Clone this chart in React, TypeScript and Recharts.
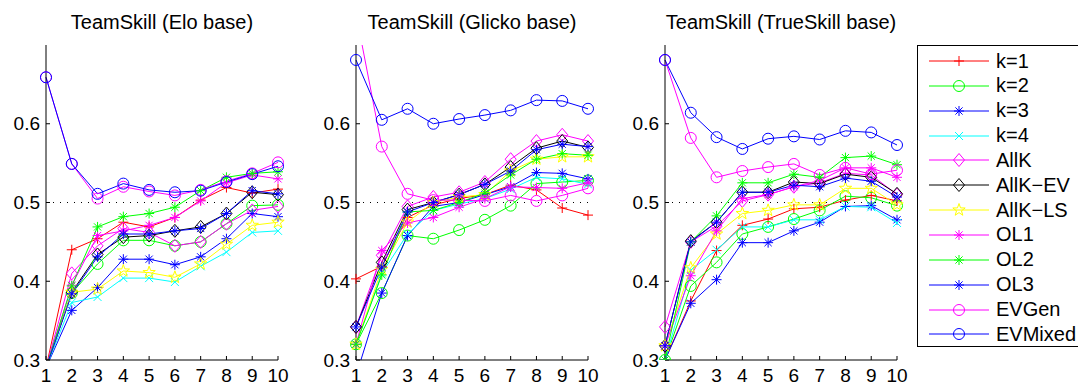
import React from 'react';
import { LineChart, Line, XAxis, YAxis, ReferenceLine } from 'recharts';

const FONT = '"Liberation Sans", Arial, Helvetica, sans-serif';

const ROUNDS = [1, 2, 3, 4, 5, 6, 7, 8, 9, 10];
const Y_TICKS = [0.3, 0.4, 0.5, 0.6];

// TeamSkill (Elo base)
const eloK1 = [0.29, 0.44, 0.454, 0.475, 0.469, 0.481, 0.503, 0.519, 0.512, 0.517];
const eloK2 = [0.29, 0.385, 0.422, 0.452, 0.452, 0.445, 0.45, 0.473, 0.496, 0.497];
const eloK3 = [0.29, 0.363, 0.392, 0.428, 0.428, 0.421, 0.431, 0.454, 0.486, 0.482];
const eloK4 = [0.29, 0.373, 0.38, 0.404, 0.404, 0.399, 0.419, 0.437, 0.462, 0.464];
const eloAllK = [0.29, 0.41, 0.445, 0.467, 0.462, 0.445, 0.45, 0.473, 0.49, 0.495];
const eloAllKEV = [0.29, 0.386, 0.434, 0.456, 0.458, 0.464, 0.469, 0.486, 0.513, 0.51];
const eloAllKLS = [0.29, 0.386, 0.39, 0.413, 0.411, 0.405, 0.422, 0.447, 0.471, 0.475];
const eloOL1 = [0.29, 0.395, 0.458, 0.464, 0.471, 0.481, 0.502, 0.525, 0.535, 0.53];
const eloOL2 = [0.29, 0.394, 0.469, 0.482, 0.486, 0.494, 0.515, 0.532, 0.537, 0.539];
const eloOL3 = [0.29, 0.384, 0.431, 0.46, 0.46, 0.464, 0.467, 0.486, 0.515, 0.511];
const eloEVGen = [0.659, 0.549, 0.505, 0.52, 0.514, 0.509, 0.516, 0.527, 0.537, 0.551];
const eloEVMixed = [0.659, 0.549, 0.511, 0.524, 0.516, 0.513, 0.515, 0.526, 0.536, 0.546];

// TeamSkill (Glicko base)
const glkK1 = [0.403, 0.419, 0.481, 0.497, 0.505, 0.51, 0.522, 0.516, 0.493, 0.484];
const glkK2 = [0.32, 0.385, 0.458, 0.454, 0.465, 0.478, 0.496, 0.524, 0.526, 0.528];
const glkK3 = [0.28, 0.385, 0.458, 0.495, 0.5, 0.51, 0.52, 0.538, 0.537, 0.53];
const glkK4 = [0.32, 0.41, 0.46, 0.49, 0.498, 0.505, 0.517, 0.532, 0.53, 0.523];
const glkAllK = [0.342, 0.433, 0.495, 0.507, 0.513, 0.526, 0.555, 0.578, 0.586, 0.578];
const glkAllKEV = [0.342, 0.424, 0.491, 0.5, 0.51, 0.523, 0.545, 0.569, 0.578, 0.57];
const glkAllKLS = [0.32, 0.415, 0.475, 0.5, 0.507, 0.51, 0.54, 0.555, 0.558, 0.558];
const glkOL1 = [0.32, 0.439, 0.474, 0.481, 0.494, 0.505, 0.52, 0.519, 0.518, 0.525];
const glkOL2 = [0.32, 0.408, 0.488, 0.49, 0.5, 0.512, 0.535, 0.555, 0.562, 0.56];
const glkOL3 = [0.342, 0.418, 0.488, 0.5, 0.51, 0.523, 0.54, 0.567, 0.574, 0.571];
const glkEVGen = [0.74, 0.571, 0.511, 0.503, 0.503, 0.502, 0.509, 0.502, 0.509, 0.518];
const glkEVMixed = [0.681, 0.605, 0.619, 0.6, 0.606, 0.611, 0.617, 0.63, 0.629, 0.619];

// TeamSkill (TrueSkill base)
const tsK1 = [0.3, 0.375, 0.439, 0.471, 0.479, 0.492, 0.494, 0.503, 0.509, 0.502];
const tsK2 = [0.3, 0.394, 0.424, 0.46, 0.469, 0.479, 0.49, 0.508, 0.506, 0.496];
const tsK3 = [0.3, 0.372, 0.402, 0.449, 0.449, 0.464, 0.475, 0.495, 0.496, 0.478];
const tsK4 = [0.3, 0.414, 0.44, 0.469, 0.469, 0.478, 0.478, 0.495, 0.494, 0.474];
const tsAllK = [0.342, 0.45, 0.47, 0.502, 0.51, 0.52, 0.525, 0.537, 0.535, 0.51];
const tsAllKEV = [0.318, 0.451, 0.475, 0.513, 0.513, 0.526, 0.524, 0.536, 0.532, 0.511];
const tsAllKLS = [0.318, 0.417, 0.46, 0.486, 0.49, 0.497, 0.497, 0.518, 0.518, 0.497];
const tsOL1 = [0.318, 0.407, 0.464, 0.505, 0.51, 0.52, 0.528, 0.544, 0.544, 0.532];
const tsOL2 = [0.3, 0.45, 0.483, 0.525, 0.525, 0.536, 0.532, 0.557, 0.559, 0.548];
const tsOL3 = [0.318, 0.45, 0.475, 0.513, 0.513, 0.522, 0.52, 0.531, 0.527, 0.507];
const tsEVGen = [0.681, 0.582, 0.532, 0.54, 0.545, 0.549, 0.535, 0.544, 0.536, 0.541];
const tsEVMixed = [0.681, 0.614, 0.583, 0.568, 0.581, 0.584, 0.58, 0.591, 0.589, 0.573];

type Shape = 'plus' | 'circle' | 'asterisk' | 'cross' | 'diamond' | 'star';

const SERIES: { key: string; name: string; color: string; shape: Shape }[] = [
  { key: 'k1', name: 'k=1', color: '#ff0000', shape: 'plus' },
  { key: 'k2', name: 'k=2', color: '#00ff00', shape: 'circle' },
  { key: 'k3', name: 'k=3', color: '#0000ff', shape: 'asterisk' },
  { key: 'k4', name: 'k=4', color: '#00ffff', shape: 'cross' },
  { key: 'allK', name: 'AllK', color: '#ff00ff', shape: 'diamond' },
  { key: 'allKEV', name: 'AllK\u2212EV', color: '#000000', shape: 'diamond' },
  { key: 'allKLS', name: 'AllK\u2212LS', color: '#ffff00', shape: 'star' },
  { key: 'ol1', name: 'OL1', color: '#ff00ff', shape: 'asterisk' },
  { key: 'ol2', name: 'OL2', color: '#00ff00', shape: 'asterisk' },
  { key: 'ol3', name: 'OL3', color: '#0000ff', shape: 'asterisk' },
  { key: 'evGen', name: 'EVGen', color: '#ff00ff', shape: 'circle' },
  { key: 'evMixed', name: 'EVMixed', color: '#0000ff', shape: 'circle' },
];

const PANELS = [
  {
    title: 'TeamSkill (Elo base)',
    left: 0,
    values: {
      k1: eloK1, k2: eloK2, k3: eloK3, k4: eloK4, allK: eloAllK, allKEV: eloAllKEV,
      allKLS: eloAllKLS, ol1: eloOL1, ol2: eloOL2, ol3: eloOL3, evGen: eloEVGen, evMixed: eloEVMixed,
    },
  },
  {
    title: 'TeamSkill (Glicko base)',
    left: 310,
    values: {
      k1: glkK1, k2: glkK2, k3: glkK3, k4: glkK4, allK: glkAllK, allKEV: glkAllKEV,
      allKLS: glkAllKLS, ol1: glkOL1, ol2: glkOL2, ol3: glkOL3, evGen: glkEVGen, evMixed: glkEVMixed,
    },
  },
  {
    title: 'TeamSkill (TrueSkill base)',
    left: 619,
    values: {
      k1: tsK1, k2: tsK2, k3: tsK3, k4: tsK4, allK: tsAllK, allKEV: tsAllKEV,
      allKLS: tsAllKLS, ol1: tsOL1, ol2: tsOL2, ol3: tsOL3, evGen: tsEVGen, evMixed: tsEVMixed,
    },
  },
];

const CHART_W = 300;
const CHART_H = 385;
const Y_AXIS_W = 46;
const PLOT_W = 232;

function Marker({ cx, cy, color, shape }: { cx?: number; cy?: number; color: string; shape: Shape }) {
  if (cx == null || cy == null || isNaN(cx) || isNaN(cy)) return null;
  const common = { stroke: color, strokeWidth: 1, fill: 'none' };
  switch (shape) {
    case 'plus':
      return <path d={`M${cx - 5},${cy}H${cx + 5}M${cx},${cy - 5}V${cy + 5}`} {...common} />;
    case 'circle':
      return <circle cx={cx} cy={cy} r={5.5} {...common} />;
    case 'cross':
      return <path d={`M${cx - 4},${cy - 4}L${cx + 4},${cy + 4}M${cx - 4},${cy + 4}L${cx + 4},${cy - 4}`} {...common} />;
    case 'asterisk':
      return (
        <path
          d={`M${cx - 5},${cy}H${cx + 5}M${cx},${cy - 5}V${cy + 5}M${cx - 3.6},${cy - 3.6}L${cx + 3.6},${cy + 3.6}M${cx - 3.6},${cy + 3.6}L${cx + 3.6},${cy - 3.6}`}
          {...common}
        />
      );
    case 'diamond':
      return <path d={`M${cx},${cy - 6.5}L${cx + 5.5},${cy}L${cx},${cy + 6.5}L${cx - 5.5},${cy}Z`} {...common} />;
    case 'star': {
      const pts: string[] = [];
      for (let i = 0; i < 10; i++) {
        const r = i % 2 === 0 ? 6.5 : 2.6;
        const a = ((-90 + 36 * i) * Math.PI) / 180;
        pts.push(`${(cx + r * Math.cos(a)).toFixed(2)},${(cy + r * Math.sin(a)).toFixed(2)}`);
      }
      return <polygon points={pts.join(' ')} {...common} />;
    }
  }
  return null;
}

function Panel({ title, left, values }: { title: string; left: number; values: Record<string, number[]> }) {
  const data = ROUNDS.map((x, i) => {
    const row: Record<string, number> = { x };
    SERIES.forEach((s) => {
      row[s.key] = values[s.key][i];
    });
    return row;
  });

  const tickStyle = { fontSize: 19, fill: '#000', fontFamily: FONT };

  return (
    <div style={{ position: 'absolute', left, top: 0, width: CHART_W, height: CHART_H }}>
      <div
        style={{
          position: 'absolute',
          left: Y_AXIS_W - 20,
          width: PLOT_W + 40,
          top: 12,
          lineHeight: '20px',
          fontSize: 20,
          fontFamily: FONT,
          textAlign: 'center',
          whiteSpace: 'nowrap',
          color: '#000',
        }}
      >
        {title}
      </div>
      <LineChart
        width={CHART_W}
        height={CHART_H}
        data={data}
        margin={{ top: 45, right: CHART_W - Y_AXIS_W - PLOT_W, bottom: 0, left: 0 }}
        style={{ position: 'absolute', left: 0, top: 0 }}
      >
        <XAxis
          dataKey="x"
          type="number"
          domain={[1, 10]}
          ticks={ROUNDS}
          interval={0}
          height={25}
          tick={tickStyle}
          tickSize={-4}
          tickMargin={13}
          axisLine={{ stroke: '#000' }}
          tickLine={{ stroke: '#000' }}
        />
        <YAxis
          type="number"
          domain={[0.3, 0.7]}
          ticks={Y_TICKS}
          allowDataOverflow
          width={Y_AXIS_W}
          tick={tickStyle}
          tickFormatter={(v: number) => v.toFixed(1)}
          tickSize={-4}
          tickMargin={10}
          axisLine={{ stroke: '#000' }}
          tickLine={{ stroke: '#000' }}
        />
        <ReferenceLine y={0.5} stroke="#000" strokeDasharray="1 6" />
        {SERIES.map((s) => (
          <Line
            key={s.key}
            dataKey={s.key}
            type="linear"
            stroke={s.color}
            strokeWidth={1}
            isAnimationActive={false}
            activeDot={false}
            dot={(p: any) => (
              <Marker key={`${s.key}-${p.index}`} cx={p.cx} cy={p.cy} color={s.color} shape={s.shape} />
            )}
          />
        ))}
      </LineChart>
    </div>
  );
}

function LegendBox() {
  return (
    <div
      style={{
        position: 'absolute',
        left: 917,
        top: 45,
        width: 180,
        height: 302,
        border: '1px solid #000',
        background: '#fff',
        boxSizing: 'border-box',
      }}
    >
      {SERIES.map((s, i) => (
        <div
          key={s.key}
          style={{
            position: 'absolute',
            left: 0,
            top: 15 + i * 24.85 - 12,
            height: 24,
            display: 'flex',
            alignItems: 'center',
          }}
        >
          <svg width={78} height={24} style={{ display: 'block' }}>
            <line x1={11} x2={71} y1={12} y2={12} stroke={s.color} strokeWidth={1} />
            <Marker cx={41} cy={12} color={s.color} shape={s.shape} />
          </svg>
          <span style={{ fontFamily: FONT, fontSize: 20, color: '#000', whiteSpace: 'nowrap' }}>{s.name}</span>
        </div>
      ))}
    </div>
  );
}

export default function App() {
  return (
    <div style={{ position: 'absolute', left: 0, top: 0, width: 1078, height: 385, background: '#fff', overflow: 'hidden' }}>
      {PANELS.map((p) => (
        <Panel key={p.title} title={p.title} left={p.left} values={p.values} />
      ))}
      <LegendBox />
    </div>
  );
}
